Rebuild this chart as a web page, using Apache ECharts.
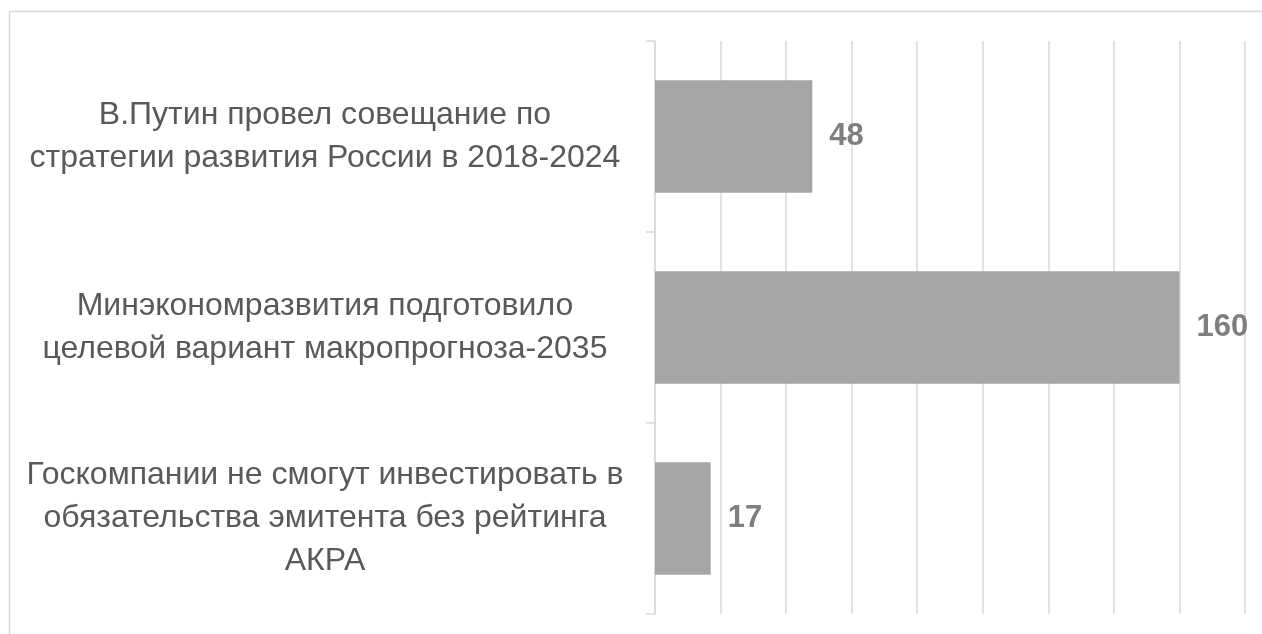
<!DOCTYPE html>
<html>
<head>
<meta charset="utf-8">
<script src="https://cdn.jsdelivr.net/npm/echarts@6/dist/echarts.min.js"></script>
<style>
  html, body { margin: 0; padding: 0; background: #fff; }
  #chart { width: 1262px; height: 634px; }
</style>
</head>
<body>
<div id="chart"></div>
<script>
const categories = [
  'В.Путин провел совещание по\nстратегии развития России в 2018-2024',
  'Минэкономразвития подготовило\nцелевой вариант макропрогноза-2035',
  'Госкомпании не смогут инвестировать в\nобязательства эмитента без рейтинга\nАКРА'
]
const values = [48, 160, 17]

const chart = echarts.init(document.getElementById('chart'))

const option = {
  animation: false,
  backgroundColor: '#fff',
  graphic: [
    {
      type: 'rect',
      shape: { x: 9.5, y: 11.5, width: 1270, height: 640 },
      style: { fill: 'none', stroke: '#d9d9d9', lineWidth: 1.5 }
    }
  ],
  grid: { left: 655, right: 17, top: 41, bottom: 20 },
  xAxis: {
    type: 'value',
    min: 0,
    max: 180,
    interval: 20,
    axisLabel: { show: false },
    axisLine: { show: false },
    axisTick: { show: false },
    splitLine: { lineStyle: { color: '#d9d9d9', width: 1.5 } }
  },
  yAxis: {
    type: 'category',
    inverse: true,
    data: categories,
    axisLine: { show: true, lineStyle: { color: '#d9d9d9', width: 1.5 } },
    axisTick: { show: true, length: 9, lineStyle: { color: '#d9d9d9', width: 1.5 } },
    axisLabel: {
      align: 'center',
      margin: 330,
      padding: [12, 0, 0, 0],
      fontFamily: 'Liberation Sans, Arial, sans-serif',
      fontSize: 32,
      lineHeight: 43,
      color: '#595959'
    }
  },
  series: [
    {
      type: 'bar',
      data: values,
      barCategoryGap: '41%',
      itemStyle: { color: '#a5a5a5' },
      label: {
        show: true,
        position: 'right',
        distance: 17,
        fontFamily: 'Liberation Sans, Arial, sans-serif',
        fontSize: 31,
        fontWeight: 'bold',
        color: '#7f7f7f'
      }
    }
  ]
}

chart.setOption(option)
</script>
</body>
</html>
